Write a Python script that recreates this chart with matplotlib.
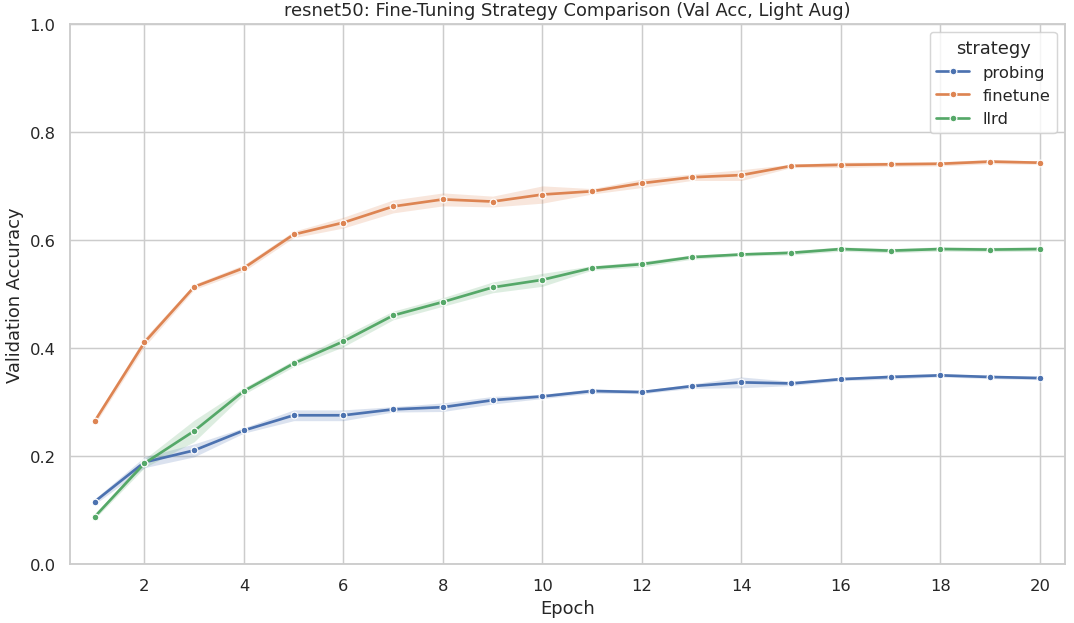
import numpy as np
import matplotlib
matplotlib.use("Agg")
import matplotlib.pyplot as plt
import seaborn as sns

# ── data ────────────────────────────────────────────────────────────────────
epochs = list(range(1, 21))

probing_mean = [0.115, 0.188, 0.210, 0.247, 0.275, 0.275, 0.286, 0.290, 0.303, 0.310,
                0.320, 0.318, 0.329, 0.336, 0.334, 0.342, 0.346, 0.349, 0.346, 0.344]
probing_err = [0.005, 0.010, 0.012, 0.005, 0.010, 0.010, 0.005, 0.008, 0.007, 0.004,
               0.004, 0.003, 0.004, 0.010, 0.004, 0.003, 0.004, 0.003, 0.003, 0.003]

finetune_mean = [0.264, 0.410, 0.513, 0.548, 0.610, 0.632, 0.662, 0.675, 0.671, 0.684,
                 0.690, 0.705, 0.716, 0.720, 0.737, 0.739, 0.740, 0.741, 0.745, 0.743]
finetune_err = [0.006, 0.008, 0.005, 0.006, 0.006, 0.010, 0.012, 0.012, 0.010, 0.016,
                0.005, 0.008, 0.006, 0.010, 0.003, 0.005, 0.004, 0.004, 0.004, 0.003]

llrd_mean = [0.087, 0.186, 0.246, 0.320, 0.371, 0.412, 0.460, 0.485, 0.512, 0.526,
             0.548, 0.555, 0.568, 0.573, 0.576, 0.583, 0.580, 0.583, 0.582, 0.583]
llrd_err = [0.004, 0.008, 0.020, 0.006, 0.006, 0.010, 0.008, 0.008, 0.010, 0.012,
            0.004, 0.005, 0.004, 0.003, 0.004, 0.004, 0.004, 0.004, 0.004, 0.004]

strategies = ["probing", "finetune", "llrd"]
means = [probing_mean, finetune_mean, llrd_mean]
errs = [probing_err, finetune_err, llrd_err]

# ── plot ────────────────────────────────────────────────────────────────────
sns.set_theme(style="whitegrid")
colors = sns.color_palette()

fig, ax = plt.subplots(figsize=(10, 5.81), dpi=107.4)
fig.subplots_adjust(left=0.065, right=0.9915, top=0.96, bottom=0.095)

x = np.array(epochs)
for name, m, e, c in zip(strategies, means, errs, colors):
    m = np.array(m)
    e = np.array(e)
    ax.fill_between(x, m - e, m + e, color=c, alpha=0.2, linewidth=0)
    ax.plot(x, m, color=c, lw=1.8, marker="o", markersize=4.5,
            markeredgecolor="white", markeredgewidth=0.8, label=name)

ax.set_xlim(0.5, 20.5)
ax.set_ylim(0.0, 1.0)
ax.set_xticks(range(2, 21, 2))
ax.set_xlabel("Epoch")
ax.set_ylabel("Validation Accuracy")
ax.set_title("resnet50: Fine-Tuning Strategy Comparison (Val Acc, Light Aug)")
ax.legend(title="strategy", loc="upper right")

fig.savefig("out.png", dpi=107.4)
